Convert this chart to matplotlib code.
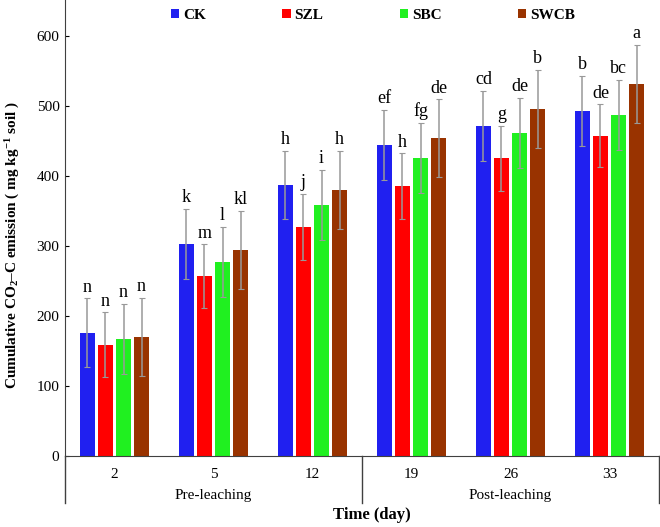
import numpy as np
import matplotlib
matplotlib.use("Agg")
import matplotlib.pyplot as plt

plt.rcParams["font.family"] = ["Liberation Serif", "DejaVu Serif"]
plt.rcParams["mathtext.fontset"] = "custom"
plt.rcParams["mathtext.rm"] = "Liberation Serif:bold"
plt.rcParams["mathtext.default"] = "rm"

# Data
days = ["2", "5", "12", "19", "26", "33"]
treatments = ["CK", "SZL", "SBC", "SWCB"]
colors = ["#2020F0", "#FF0000", "#20F020", "#993300"]

ck = [176, 303, 387, 444, 471, 493]
szl = [159, 257, 327, 385, 425, 457]
sbc = [167, 277, 359, 426, 461, 487]
swcb = [170, 294, 380, 454, 495, 531]

ck_err = [49, 50, 49, 50, 50, 50]
szl_err = [46, 45, 47, 47, 46, 45]
sbc_err = [50, 50, 50, 50, 50, 50]
swcb_err = [56, 56, 56, 55, 56, 56]

ck_lab = ["n", "k", "h", "ef", "cd", "b"]
szl_lab = ["n", "m", "j", "h", "g", "de"]
sbc_lab = ["n", "l", "i", "fg", "de", "bc"]
swcb_lab = ["n", "kl", "h", "de", "b", "a"]

phases = ["Pre-leaching", "Post-leaching"]

values = [ck, szl, sbc, swcb]
errors = [ck_err, szl_err, sbc_err, swcb_err]
letters = [ck_lab, szl_lab, sbc_lab, swcb_lab]

fig = plt.figure(figsize=(6.6, 5.27), dpi=100)
ax = fig.add_axes([65 / 660, 71 / 527, 594 / 660, 456 / 527])

x = np.arange(len(days))
offsets = [-0.273, -0.091, 0.091, 0.273]
for i in range(4):
    ax.bar(x + offsets[i], values[i], width=0.145, color=colors[i], label=treatments[i])
    ax.errorbar(x + offsets[i], values[i], yerr=errors[i], fmt="none",
                ecolor="#999999", elinewidth=1.1, capsize=2.5, capthick=0.8)
    for j in range(len(days)):
        ax.annotate(letters[i][j], (x[j] + offsets[i], values[i][j] + errors[i][j]),
                    xytext=(0, 2), textcoords="offset points",
                    ha="center", va="bottom", fontsize=13)

ax.set_xlim(-0.5, 5.5)
ax.set_ylim(0, 651)
ax.set_yticks(range(0, 700, 100))
ax.set_xticks(x)
ax.set_xticklabels(days)
ax.tick_params(axis="x", length=0, pad=9, labelsize=11)
ax.tick_params(axis="y", direction="in", length=3, labelsize=11, pad=4)
ax.spines["top"].set_visible(False)
ax.spines["right"].set_visible(False)
ax.spines["bottom"].set_color("#404040")
ax.spines["left"].set_color("#404040")

# group boxes under the axis
tr = ax.get_xaxis_transform()
for xv in [-0.5, 2.5, 5.5]:
    ax.plot([xv, xv], [0, -0.103], color="#404040", lw=1, transform=tr, clip_on=False)
ax.text(1, -0.087, phases[0], transform=tr, ha="center", va="center", fontsize=11)
ax.text(4, -0.087, phases[1], transform=tr, ha="center", va="center", fontsize=11)

ax.set_ylabel("Cumulative CO$_2$–C emission ( mg kg$^{-1}$ soil )", fontsize=11, fontweight="bold")
ax.yaxis.set_label_coords(-0.072, 0.463)
fig.text(372 / 660, 1 - 515 / 527, "Time (day)", ha="center", va="center",
         fontsize=12, fontweight="bold")

leg = ax.legend(loc="upper center", bbox_to_anchor=(0.5185, 1.01), ncol=4, frameon=False,
                handlelength=0.55, handleheight=0.55, handletextpad=0.25,
                columnspacing=5.0, prop={"weight": "bold", "size": 11})

fig.savefig("out.png", dpi=100)
